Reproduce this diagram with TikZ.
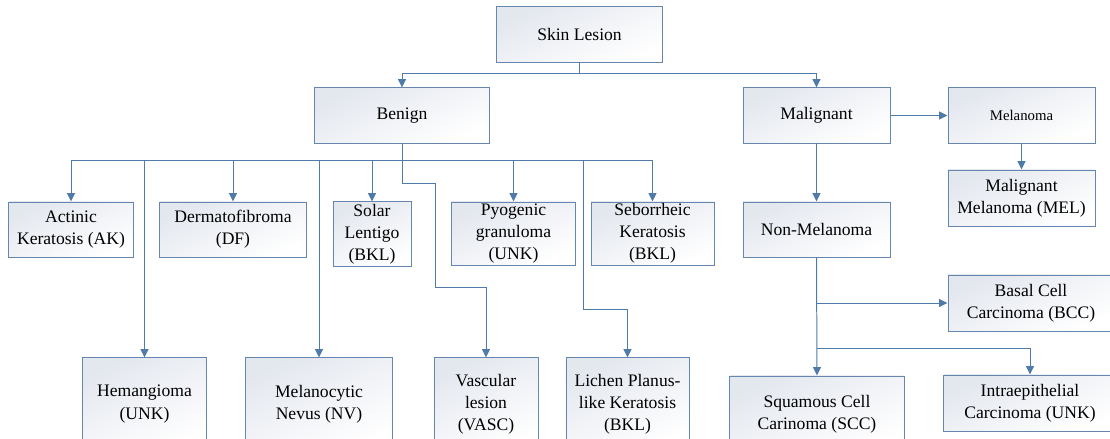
\documentclass[tikz,border=0pt]{standalone}
\usepackage{fontspec}
\setmainfont{Liberation Serif}
\usetikzlibrary{arrows.meta, positioning}
\definecolor{lesionline}{HTML}{4F7BAA}
\definecolor{lesionborder}{HTML}{6586AE}
\definecolor{lesionshade}{HTML}{E3E7EE}

\begin{document}
\begin{tikzpicture}[
        x=0.025cm, y=-0.025cm,
        lesionbox/.style={
            draw=lesionborder,
            line width=0.7pt,
            top color=lesionshade,
            bottom color=white,
            shading angle=25,
            align=center,
            inner sep=0pt,
            font=\fontsize{12.5}{15.8}\selectfont
        },
        branchlink/.style={-{Triangle[length=2.1mm, width=2mm]}, line width=0.7pt, lesionline},
        trunklink/.style={line width=0.7pt, lesionline}
    ]
        \useasboundingbox (0,0) rectangle (1110,439);

        % top levels
        \node[lesionbox, minimum width=4.125cm, minimum height=1.375cm] (skin) at (579.5,34.5) {Skin Lesion};
        \node[lesionbox, minimum width=4.35cm, minimum height=1.375cm] (benign) at (402,115.5) {Benign};
        \node[lesionbox, minimum width=3.675cm, minimum height=1.375cm] (malignant) at (816.5,115.5) {Malignant};
        \node[lesionbox, minimum width=3.675cm, minimum height=1.375cm,
            font=\fontsize{10.5}{13}\selectfont] (melanoma) at (1021.5,115.5) {Melanoma};
        \node[lesionbox, minimum width=3.675cm, minimum height=1.4cm] (mel) at (1021.5,198) {Malignant\\Melanoma (MEL)};
        \node[lesionbox, minimum width=3.675cm, minimum height=1.375cm] (nonmel) at (816.5,229.5) {Non-Melanoma};

        % benign, upper row
        \node[lesionbox, minimum width=3.1cm, minimum height=1.375cm] (actinic) at (71,229.5) {Actinic\\Keratosis (AK)};
        \node[lesionbox, minimum width=3.65cm, minimum height=1.375cm] (dermato) at (233,229.5) {Dermatofibroma\\(DF)};
        \node[lesionbox, minimum width=1.95cm, minimum height=1.6cm] (solar) at (372,234) {Solar\\Lentigo\\(BKL)};
        \node[lesionbox, minimum width=3.075cm, minimum height=1.575cm] (pyogenic) at (513.5,233.5) {Pyogenic\\granuloma\\(UNK)};
        \node[lesionbox, minimum width=3.075cm, minimum height=1.575cm] (seborrheic) at (652.5,233.5) {Seborrheic\\Keratosis\\(BKL)};

        % benign, lower row
        \node[lesionbox, minimum width=3.075cm, minimum height=2.3cm] (hemangioma) at (144.5,404) {Hemangioma\\(UNK)};
        \node[lesionbox, minimum width=3.65cm, minimum height=2.3cm] (nevus) at (319,404) {Melanocytic\\Nevus (NV)};
        \node[lesionbox, minimum width=2.6cm, minimum height=2.3cm] (vascular) at (486,404) {Vascular\\lesion\\(VASC)};
        \node[lesionbox, minimum width=3.075cm, minimum height=2.3cm] (lichen) at (627.5,404) {Lichen Planus-\\like Keratosis\\(BKL)};

        % non-melanoma children
        \node[lesionbox, minimum width=4.15cm, minimum height=1.4cm] (basal) at (1031,303) {Basal Cell\\Carcinoma (BCC)};
        \node[lesionbox, minimum width=4.35cm, minimum height=1.9cm] (squamous) at (817,414) {Squamous Cell\\Carinoma (SCC)};
        \node[lesionbox, minimum width=4.3cm, minimum height=1.4cm] (intra) at (1030,403) {Intraepithelial\\Carcinoma (UNK)};

        \coordinate (skinbar) at (579.5,73);
        \coordinate (benignbar) at (402,160);
        \coordinate (vascbendtop) at (435,183);
        \coordinate (vascbendlow) at (435,287);
        \coordinate (lichenstart) at (583,160);
        \coordinate (lichenbend) at (583,309);
        \coordinate (basalfork) at (817,303);
        \coordinate (intrafork) at (817,348);

        \draw[trunklink] (skin.south) -- (skinbar);
        \draw[branchlink] (skinbar) -| (benign.north);
        \draw[branchlink] (skinbar) -| (malignant.north);

        \draw[trunklink] (benign.south) -- (benignbar);
        \foreach \child in {actinic, hemangioma, dermato, nevus, solar, pyogenic, seborrheic}
            \draw[branchlink] (benignbar) -| (\child.north);
        \draw[branchlink] (benignbar) |- (vascbendtop) -- (vascbendlow) -| (vascular.north);
        \draw[branchlink] (lichenstart) -- (lichenbend) -| (lichen.north);

        \draw[branchlink] (malignant.east) -- (melanoma.west);
        \draw[branchlink] (melanoma.south) -- (mel.north);
        \draw[branchlink] (malignant.south) -- (nonmel.north);

        \draw[branchlink] (nonmel.south) -- (squamous.north);
        \draw[branchlink] (basalfork) -- (basal.west);
        \draw[branchlink] (intrafork) -| (intra.north);
    \end{tikzpicture}
\end{document}
